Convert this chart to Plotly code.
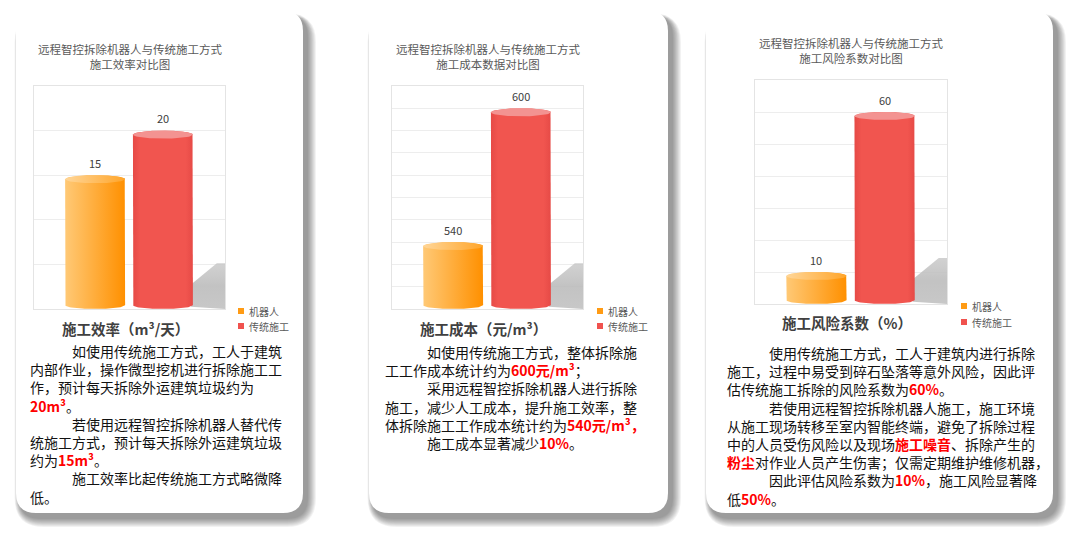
import numpy as np
import plotly.graph_objects as go

# ---- data ----
series_names = ["机器人", "传统施工"]
efficiency = [15, 20]
cost = [540, 600]
risk = [10, 60]

chart_titles = [
    ["远程智控拆除机器人与传统施工方式", "施工效率对比图"],
    ["远程智控拆除机器人与传统施工方式", "施工成本数据对比图"],
    ["远程智控拆除机器人与传统施工方式", "施工风险系数对比图"],
]
axis_titles = ["施工效率（m³/天）", "施工成本（元/m³）", "施工风险系数（%）"]

# y axis [min, max, step] for each chart
y_scales = [[0, 25, 5], [510, 610, 10], [0, 70, 10]]


def red(s):
    return "<span style='color:#FF0000'><b>" + s + "</b></span>"


text_eff = [
    "　　　如使用传统施工方式，工人于建筑",
    "内部作业，操作微型挖机进行拆除施工工",
    "作，预计每天拆除外运建筑垃圾约为",
    red("20m³") + "。",
    "　　　若使用远程智控拆除机器人替代传",
    "统施工方式，预计每天拆除外运建筑垃圾",
    "约为" + red("15m³") + "。",
    "　　　施工效率比起传统施工方式略微降",
    "低。",
]
text_cost = [
    "　　　如使用传统施工方式，整体拆除施",
    "工工作成本统计约为" + red("600元/m³") + "；",
    "　　　采用远程智控拆除机器人进行拆除",
    "施工，减少人工成本，提升施工效率，整",
    "体拆除施工工作成本统计约为" + red("540元/m³，"),
    "　　　施工成本显著减少" + red("10%") + "。",
]
text_risk = [
    "　　　使用传统施工方式，工人于建筑内进行拆除",
    "施工，过程中易受到碎石坠落等意外风险，因此评",
    "估传统施工拆除的风险系数为" + red("60%") + "。",
    "　　　若使用远程智控拆除机器人施工，施工环境",
    "从施工现场转移至室内智能终端，避免了拆除过程",
    "中的人员受伤风险以及现场" + red("施工噪音") + "、拆除产生的",
    red("粉尘") + "对作业人员产生伤害；仅需定期维护维修机器，",
    "　　　因此评估风险系数为" + red("10%") + "，施工风险显著降",
    "低" + red("50%") + "。",
]

values = [efficiency, cost, risk]
texts = [text_eff, text_cost, text_risk]

# ---- layout (pixels in a 1080x537 page) ----
W, H = 1080, 537
FONT = "Noto Sans CJK SC"
cards = [(16, 11, 303, 513), (369, 11, 668, 513), (706, 11, 1053, 513)]
plots = [(34, 86, 225, 309), (392, 86, 583, 309), (755, 80, 947, 304)]
title_y = [56, 56, 50]
axis_title_pos = [(125, 328), (483, 328), (847, 322)]
legend_pos = [(241, 311, 326), (600, 311, 326), (964, 306, 322)]
text_pos = [(28, 351), (383, 352), (725, 353)]
BODY_SIZE = 14
LINE_STEP = BODY_SIZE * 1.3

bar_centers = [0.32, 0.675]
bar_hw = 0.157
ELL_PX = 4

body_fill = [
    dict(type="horizontal", colorscale=[[0, "#FFC976"], [1, "#FF9000"]]),
    dict(type="horizontal", colorscale=[[0, "#E64A46"], [0.12, "#F1554F"], [0.88, "#F1554F"], [1, "#E64A46"]]),
]
cap_fill = [
    dict(type="horizontal", colorscale=[[0, "#FFD698"], [1, "#FFA52A"]]),
    dict(type="horizontal", colorscale=[[0, "#F39391"], [1, "#F39391"]]),
]
legend_colors = ["#FF9B14", "#F0524E"]


def px_x(x):
    return x / W


def px_y(y):
    return 1 - y / H


def rounded_path(x0, y0, x1, y1, r):
    pts = [
        ("M", x0 + r, y0), ("L", x1 - r, y0), ("Q", x1, y0, x1, y0 + r),
        ("L", x1, y1 - r), ("Q", x1, y1, x1 - r, y1), ("L", x0 + r, y1),
        ("Q", x0, y1, x0, y1 - r), ("L", x0, y0 + r), ("Q", x0, y0, x0 + r, y0),
    ]
    out = ""
    for p in pts:
        cmd, coords = p[0], p[1:]
        xy = []
        for i in range(0, len(coords), 2):
            xy.append("%.5f,%.5f" % (px_x(coords[i]), px_y(coords[i + 1])))
        out += cmd + " ".join(xy) + " "
    return out + "Z"


def cylinder_xy(cx, hw, base, top, h, n=40):
    t = np.linspace(0, np.pi, n)
    xb = cx - hw * np.cos(t)
    yb = (base + h) - h * np.sin(t)
    xt = cx + hw * np.cos(t)
    yt = (top - h) + h * np.sin(t)
    xs = np.concatenate([[cx - hw], xb, xt])
    ys = np.concatenate([[top - h], yb, yt])
    return xs, ys


def ellipse_xy(cx, hw, cy, h, n=60):
    t = np.linspace(0, 2 * np.pi, n)
    return cx + hw * np.cos(t), cy + h * np.sin(t)


fig = go.Figure()
shapes = []
annotations = []

for k in range(3):
    xa = "x" if k == 0 else "x%d" % (k + 1)
    ya = "y" if k == 0 else "y%d" % (k + 1)
    lo, hi, step = y_scales[k]
    px0, py0, px1, py1 = plots[k]
    h = ELL_PX * (hi - lo) / (py1 - py0)

    # card shadow + card
    cx0, cy0, cx1, cy1 = cards[k]
    for i in range(9, 0, -1):
        shapes.append(dict(type="path", xref="paper", yref="paper", layer="below",
                           path=rounded_path(cx0 + 4 - i * 0.6, cy0 + 5 - i * 0.3, cx1 + 4 + i, cy1 + 5 + i, 20 + i),
                           fillcolor="rgba(0,0,0,0.05)", line=dict(width=0)))
    shapes.append(dict(type="path", xref="paper", yref="paper", layer="below",
                       path=rounded_path(cx0, cy0, cx1, cy1, 20),
                       fillcolor="white", line=dict(width=0)))

    # floor shadow behind the tall bar
    right = bar_centers[1] + bar_hw
    span = hi - lo
    fig.add_trace(go.Scatter(
        x=[right - 0.01, right - 0.01, right + 0.125, 1.0, 1.0],
        y=[lo + 0.01 * span, lo + 0.11 * span, lo + 0.205 * span, lo + 0.205 * span, lo],
        mode="lines", fill="toself",
        fillgradient=dict(type="vertical",
                          colorscale=[[0, "rgba(190,190,190,0.85)"], [0.5, "rgba(188,188,188,0.9)"],
                                      [1, "rgba(198,198,198,0.8)"]],
                          start=lo, stop=lo + 0.205 * span),
        line=dict(width=0, color="rgba(0,0,0,0)"), hoverinfo="skip",
        showlegend=False, xaxis=xa, yaxis=ya))

    for i, v in enumerate(values[k]):
        cx = bar_centers[i]
        xs, ys = cylinder_xy(cx, bar_hw, lo, v, h)
        bf = dict(body_fill[i], start=cx - bar_hw, stop=cx + bar_hw)
        fig.add_trace(go.Scatter(x=xs, y=ys, mode="lines", fill="toself", fillgradient=bf,
                                 line=dict(width=0, color="rgba(0,0,0,0)"), hoverinfo="skip",
                                 name=series_names[i], showlegend=False, xaxis=xa, yaxis=ya))
        ex, ey = ellipse_xy(cx, bar_hw, v - h, h)
        cf = dict(cap_fill[i], start=cx - bar_hw, stop=cx + bar_hw)
        fig.add_trace(go.Scatter(x=ex, y=ey, mode="lines", fill="toself", fillgradient=cf,
                                 line=dict(width=0, color="rgba(0,0,0,0)"), hoverinfo="skip",
                                 showlegend=False, xaxis=xa, yaxis=ya))
        annotations.append(dict(xref=xa, yref=ya, x=cx, y=v, text=str(v), showarrow=False,
                                yanchor="middle", yshift=12.5,
                                font=dict(family=FONT, size=11, color="#404040")))

    dom_x = [px_x(px0), px_x(px1)]
    dom_y = [px_y(py1), px_y(py0)]
    axis_style = dict(showline=True, mirror=True, linecolor="#E4E4E4", linewidth=1,
                      zeroline=False, showticklabels=False, ticks="", fixedrange=True)
    fig.update_layout(**{
        ("xaxis" if k == 0 else "xaxis%d" % (k + 1)): dict(domain=dom_x, anchor=ya, range=[0, 1],
                                                           showgrid=False, **axis_style),
        ("yaxis" if k == 0 else "yaxis%d" % (k + 1)): dict(domain=dom_y, anchor=xa, range=[lo, hi],
                                                           tick0=lo, dtick=step, showgrid=True,
                                                           gridcolor="#EDEDED", gridwidth=1, **axis_style),
    })

    # chart title (two lines)
    tcx = (px0 + px1) / 2
    annotations.append(dict(xref="paper", yref="paper", x=px_x(tcx), y=px_y(title_y[k]),
                            text="<br>".join(chart_titles[k]), showarrow=False,
                            xanchor="center", yanchor="middle", align="center",
                            font=dict(family=FONT, size=11.5, color="#595959")))

    # category axis title
    ax, ay = axis_title_pos[k]
    annotations.append(dict(xref="paper", yref="paper", x=px_x(ax), y=px_y(ay),
                            text="<b>" + axis_titles[k] + "</b>", showarrow=False,
                            xanchor="center", yanchor="middle",
                            font=dict(family=FONT, size=14.5, color="#404040")))

    # legend
    lx, ly1, ly2 = legend_pos[k]
    for name, col, ly in zip(series_names, legend_colors, (ly1, ly2)):
        shapes.append(dict(type="rect", xref="paper", yref="paper",
                           x0=px_x(lx - 3), x1=px_x(lx + 3), y0=px_y(ly + 3), y1=px_y(ly - 3),
                           fillcolor=col, line=dict(width=0)))
        annotations.append(dict(xref="paper", yref="paper", x=px_x(lx + 6), y=px_y(ly), text=name,
                                showarrow=False, xanchor="left", yanchor="middle",
                                font=dict(family=FONT, size=10, color="#595959")))

    # body text (one block per card)
    tx, ty0 = text_pos[k]
    n = len(texts[k])
    annotations.append(dict(xref="paper", yref="paper", x=px_x(tx),
                            y=px_y(ty0 + (n - 1) * LINE_STEP / 2),
                            text="<br>".join(texts[k]), showarrow=False,
                            xanchor="left", yanchor="middle", align="left",
                            font=dict(family=FONT, size=BODY_SIZE, color="#111111")))

fig.update_layout(
    width=W, height=H,
    margin=dict(l=0, r=0, t=0, b=0),
    paper_bgcolor="white",
    plot_bgcolor="rgba(0,0,0,0)",
    showlegend=False,
    shapes=shapes,
    annotations=annotations,
)

fig.write_html("out.html", config={"displayModeBar": False},
               post_script="document.body.style.margin='0px';")
